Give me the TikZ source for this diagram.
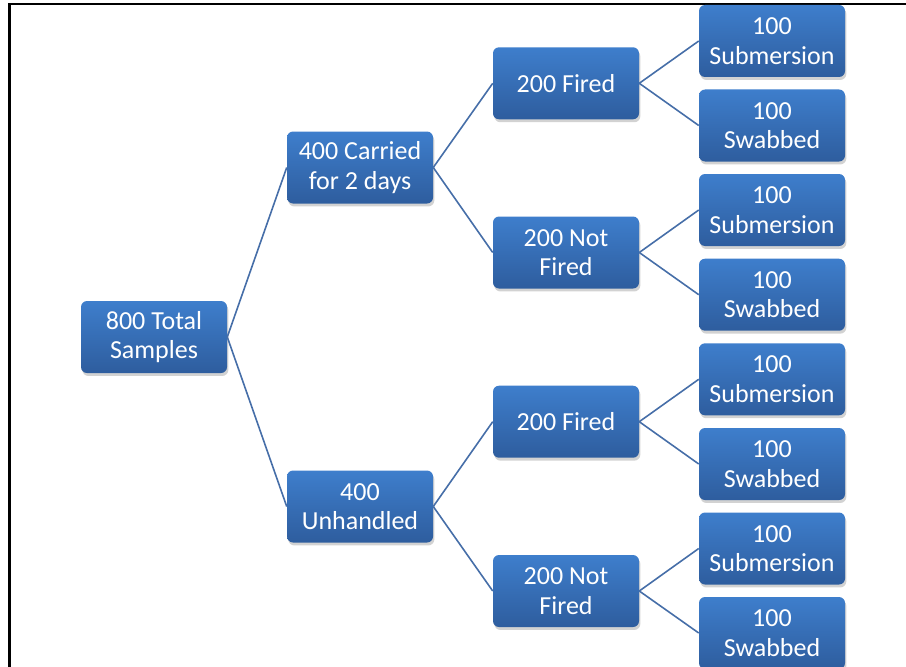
\documentclass[tikz,border=0pt]{standalone}
\usepackage{fontspec}
\setmainfont{Carlito}
\usetikzlibrary{shadows}
\definecolor{boxtop}{RGB}{62,126,204}
\definecolor{boxbot}{RGB}{46,93,158}
\definecolor{linkcol}{RGB}{70,110,168}
\tikzset{
  box/.style={rounded corners=4.5pt, top color=boxtop, bottom color=boxbot,
    draw=none, minimum width=109.5pt, minimum height=54pt, inner sep=0pt,
    text=white, align=center,
    font=\fontsize{19.5pt}{22pt}\selectfont,
    drop shadow={shadow xshift=1pt, shadow yshift=-2.2pt, opacity=0.25, fill=black!70}},
  link/.style={draw=linkcol, line width=1.2pt},
  frame/.style={draw=black, line width=1.6pt}
}
\begin{document}
\begin{tikzpicture}[x=0.75pt,y=-0.75pt]
\useasboundingbox (0,0) rectangle (906,667);
\coordinate (f0) at (9.5,667);
\coordinate (f1) at (9.5,4);
\coordinate (f2) at (906,4);
\draw[frame] (f0) -- (f1) -- (f2);

\node[box] (root) at (154,337) {800 Total\\Samples};
\node[box] (a1) at (360,167.5) {400 Carried\\for 2 days};
\node[box] (a2) at (360,506.5) {400\\Unhandled};

\node[box] (b1) at (566,83.3) {200 Fired};
\node[box] (b2) at (566,252.5) {200 Not\\Fired};
\node[box] (b3) at (566,421.7) {200 Fired};
\node[box] (b4) at (566,591) {200 Not\\Fired};

\node[box] (c1) at (772,41) {100\\Submersion};
\node[box] (c2) at (772,125.5) {100\\Swabbed};
\node[box] (c3) at (772,210) {100\\Submersion};
\node[box] (c4) at (772,294.7) {100\\Swabbed};
\node[box] (c5) at (772,379.3) {100\\Submersion};
\node[box] (c6) at (772,464) {100\\Swabbed};
\node[box] (c7) at (772,548.5) {100\\Submersion};
\node[box] (c8) at (772,633) {100\\Swabbed};

\draw[link] (root.east) -- (a1.west);
\draw[link] (root.east) -- (a2.west);
\draw[link] (a1.east) -- (b1.west);
\draw[link] (a1.east) -- (b2.west);
\draw[link] (a2.east) -- (b3.west);
\draw[link] (a2.east) -- (b4.west);
\draw[link] (b1.east) -- (c1.west);
\draw[link] (b1.east) -- (c2.west);
\draw[link] (b2.east) -- (c3.west);
\draw[link] (b2.east) -- (c4.west);
\draw[link] (b3.east) -- (c5.west);
\draw[link] (b3.east) -- (c6.west);
\draw[link] (b4.east) -- (c7.west);
\draw[link] (b4.east) -- (c8.west);
\end{tikzpicture}
\end{document}
